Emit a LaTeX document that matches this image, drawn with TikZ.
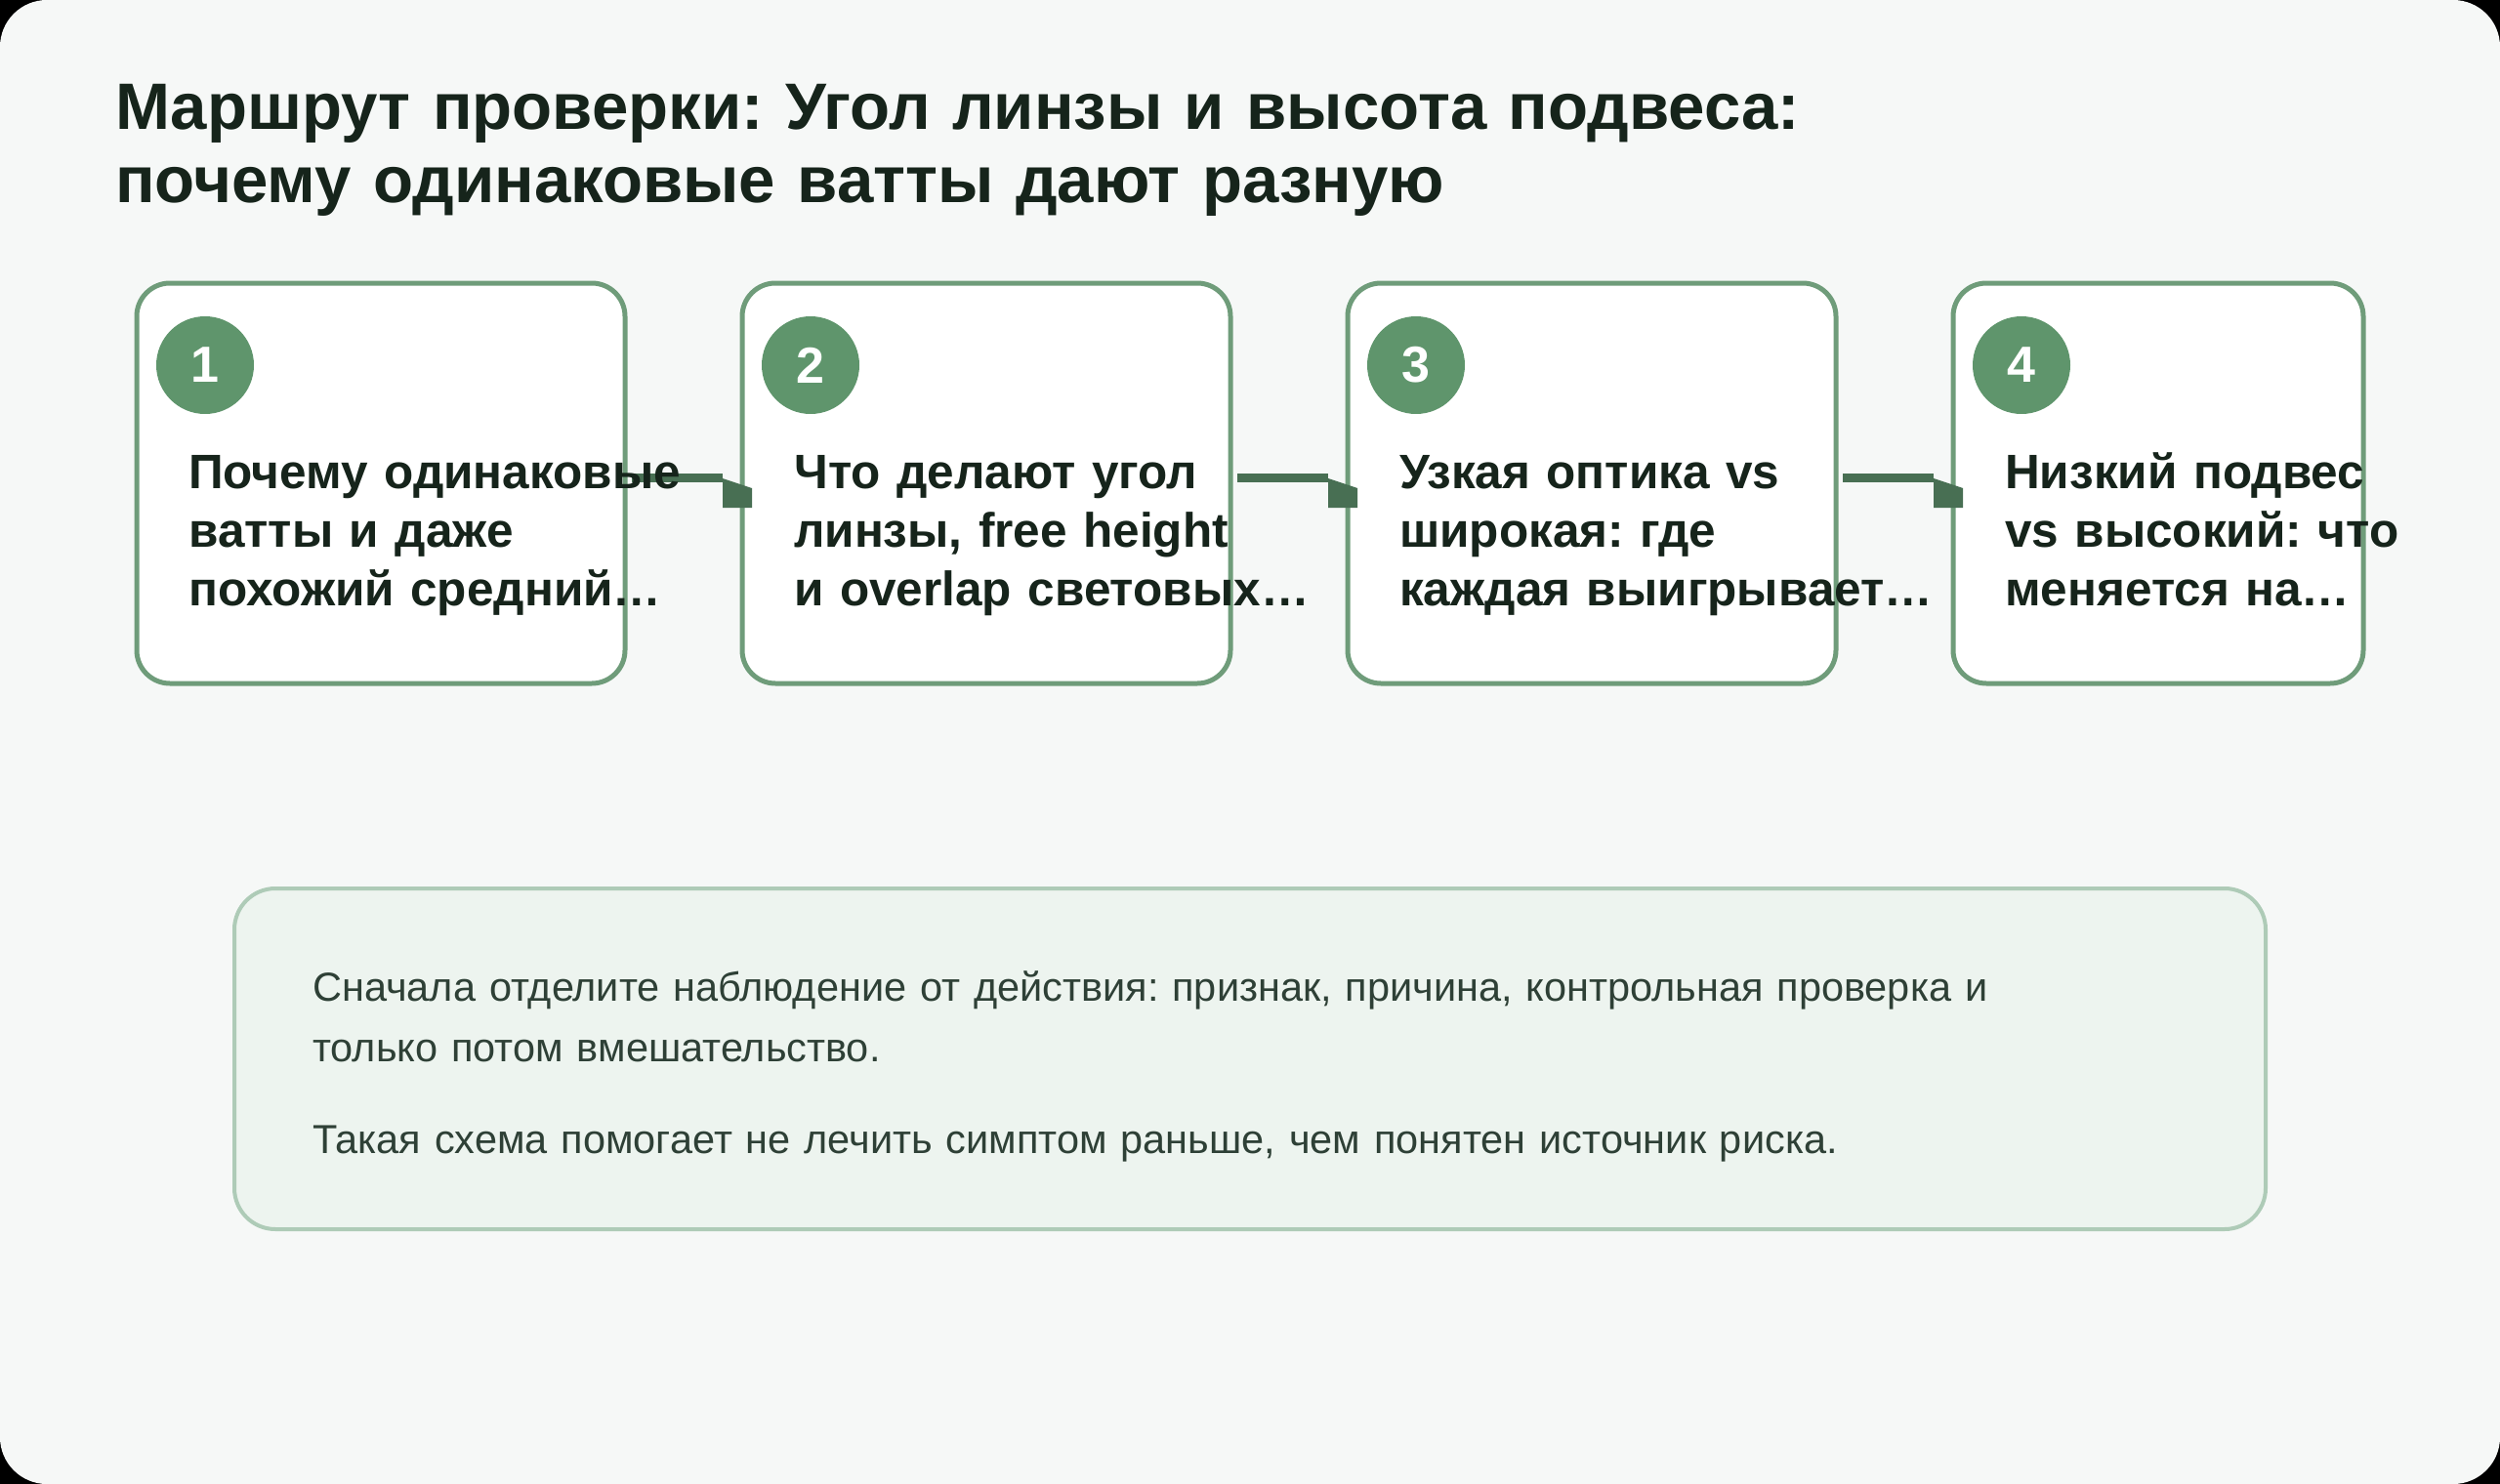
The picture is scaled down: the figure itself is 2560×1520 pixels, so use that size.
\documentclass[tikz,border=0pt]{standalone}
\usepackage{fontspec}
\setmainfont{Liberation Sans}
\frenchspacing

\definecolor{pagebg}{HTML}{F6F8F7}
\definecolor{ink}{HTML}{16241B}
\definecolor{cardline}{HTML}{6F9C7A}
\definecolor{badgefill}{HTML}{5F956C}
\definecolor{linkcol}{HTML}{486F53}
\definecolor{notefill}{HTML}{EDF4EF}
\definecolor{noteline}{HTML}{AECBB7}
\definecolor{noteink}{HTML}{2E4036}

\tikzset{
  card/.style={draw=cardline, line width=5pt, fill=white, rounded corners=34pt,
    minimum height=410pt, inner sep=0pt, outer sep=0pt},
  badge/.style={circle, fill=badgefill, minimum size=100pt, inner sep=0pt, text=white,
    font=\bfseries\fontsize{52pt}{52pt}\selectfont},
  cardtext/.style={anchor=base west, inner sep=0pt, text width=800pt, align=left, text=ink,
    font=\bfseries\fontsize{49.5pt}{60pt}\selectfont},
  link/.style={draw=linkcol, line width=9pt},
  note/.style={draw=noteline, line width=4pt, fill=notefill, rounded corners=42pt,
    minimum width=2080pt, minimum height=349pt, inner sep=0pt, outer sep=0pt},
}

\begin{document}
\begin{tikzpicture}[x=1pt,y=-1pt,line join=round]

  % ---- fondo -----------------------------------------------------------------
  \useasboundingbox (0,0) rectangle (2560,1520);
  \fill[black] (0,0) rectangle (2560,1520);
  \fill[pagebg, rounded corners=48pt] (0,0) rectangle (2560,1520);

  % ---- titolo ----------------------------------------------------------------
  \node[anchor=base west, inner sep=0pt, text width=2300pt, align=left, text=ink,
        font=\bfseries\fontsize{67.2pt}{75pt}\selectfont] (title) at (118,132)
    {Маршрут проверки: Угол линзы и высота подвеса:\\почему одинаковые ватты дают разную};

  % ---- le quattro schede -----------------------------------------------------
  \node[card, minimum width=500pt] (c1) at (390,495) {};
  \node[card, minimum width=500pt] (c2) at (1010,495) {};
  \node[card, minimum width=500pt] (c3) at (1630,495) {};
  \node[card, minimum width=420pt] (c4) at (2210,495) {};

  \node[badge] (n1) at ([xshift=70pt,yshift=-84pt]c1.north west) {1};
  \node[badge] (n2) at ([xshift=70pt,yshift=-84pt]c2.north west) {2};
  \node[badge] (n3) at ([xshift=70pt,yshift=-84pt]c3.north west) {3};
  \node[badge] (n4) at ([xshift=70pt,yshift=-84pt]c4.north west) {4};

  % ---- collegamenti ----------------------------------------------------------
  \foreach \a/\b in {c1/c2,c2/c3,c3/c4}{
    \draw[link] ([xshift=7pt,yshift=5.5pt]\a.east) -- ([xshift=-20pt,yshift=5.5pt]\b.west);
    \fill[linkcol] ([xshift=-20pt,yshift=5pt]\b.west) -- ([xshift=10pt,yshift=-5pt]\b.west)
      -- ([xshift=10pt,yshift=-25pt]\b.west) -- ([xshift=-20pt,yshift=-25pt]\b.west) -- cycle;
  }

  % ---- testi delle schede ----------------------------------------------------
  \node[cardtext] (t1) at ([xshift=53pt,yshift=-210pt]c1.north west)
    {Почему одинаковые\\ватты и даже\\похожий средний…};
  \node[cardtext] (t2) at ([xshift=53pt,yshift=-210pt]c2.north west)
    {Что делают угол\\линзы, free height\\и overlap световых…};
  \node[cardtext] (t3) at ([xshift=53pt,yshift=-210pt]c3.north west)
    {Узкая оптика vs\\широкая: где\\каждая выигрывает…};
  \node[cardtext] (t4) at ([xshift=53pt,yshift=-210pt]c4.north west)
    {Низкий подвес\\vs высокий: что\\меняется на…};

  % ---- nota in basso ---------------------------------------------------------
  \node[note] (note) at (1280,1084.5) {};
  \node[anchor=base west, inner sep=0pt, text width=1950pt, align=left, text=noteink,
        font=\fontsize{41.5pt}{62pt}\selectfont] (notetext) at (320,1025)
    {Сначала отделите наблюдение от действия: признак, причина, контрольная проверка и\\
     только потом вмешательство.\\[32pt]
     Такая схема помогает не лечить симптом раньше, чем понятен источник риска.};

\end{tikzpicture}
\end{document}
